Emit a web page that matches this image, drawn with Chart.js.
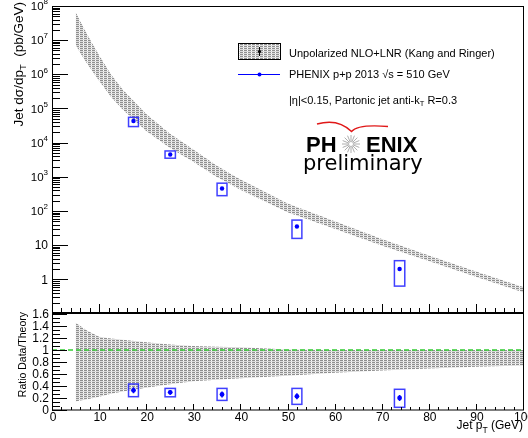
<!DOCTYPE html>
<html>
<head>
<meta charset="UTF-8">
<title>PHENIX jet cross section</title>
<style>
    body { margin: 0; background: #fff; }
    #wrap { position: relative; width: 528px; height: 438px; overflow: hidden; background: #fff; }
    canvas { position: absolute; left: 0; }
    #top { top: 0; }
    #ratio { top: 300px; }
</style>
</head>
<body>
<div id="wrap">
    <canvas id="top" width="528" height="320"></canvas>
    <canvas id="ratio" width="528" height="138"></canvas>
</div>
<script src="https://cdn.jsdelivr.net/npm/chart.js"></script>
<script>
// measured points (PHENIX p+p 2013, 510 GeV)
const ptBins = [17.3, 25.1, 36.1, 52.0, 73.8];
const ptHalfWidth = [1.05, 1.1, 1.05, 1.05, 1.1];
const xsec = [4.3e4, 4.5e3, 455, 35, 2.0];
const xsecSysLo = [2.95e4, 3.5e3, 280, 15.7, 0.63];
const xsecSysHi = [5.5e4, 5.7e3, 650, 54, 3.5];
const ratio = [0.328, 0.295, 0.26, 0.228, 0.20];
const ratioStat = [0.05, 0.04, 0.05, 0.05, 0.05];
const ratioSysLo = [0.222, 0.22, 0.16, 0.094, 0.045];
const ratioSysHi = [0.433, 0.36, 0.36, 0.36, 0.345];

// theory band (NLO+LNR)
const theoryPt = [5, 6, 7.5, 10, 12.5, 15, 20, 25, 30, 35, 40, 50, 60, 70, 80, 90, 100];
const theoryHi = [6.8e7, 3.6e7, 1.45e7, 3.6e6, 1.0e6, 3.6e5, 6.9e4, 1.86e4, 6300, 2100, 830, 166, 50, 15, 5.0, 1.7, 0.59];
const theoryLo = [7.4e6, 4.2e6, 2.0e6, 6.5e5, 2.2e5, 9.3e4, 2.2e4, 7100, 2750, 980, 420, 91, 30, 9.8, 3.4, 1.19, 0.42];
const ratioBandHi = [1.455, 1.40, 1.32, 1.22, 1.19, 1.17, 1.13, 1.09, 1.067, 1.055, 1.045, 1.01, 1.0, 1.0, 1.0, 1.0, 1.0];
const ratioBandLo = [0.14, 0.16, 0.18, 0.22, 0.27, 0.31, 0.37, 0.43, 0.48, 0.505, 0.53, 0.57, 0.62, 0.66, 0.69, 0.72, 0.74];

// unity line in ratio panel
const unityX = [0, 100];
const unityY = [1, 1];

// axis labels
const topDecades = [0, 1, 2, 3, 4, 5, 6, 7, 8];
const xLabels = [0, 10, 20, 30, 40, 50, 60, 70, 80, 90, 100];
const ratioLabels = [0, 0.2, 0.4, 0.6, 0.8, 1, 1.2, 1.4, 1.6];

const FONT = '"Liberation Sans", Arial, sans-serif';

function makeHatch() {
    const c = document.createElement('canvas');
    c.width = 4; c.height = 2;
    const g = c.getContext('2d');
    g.fillStyle = '#fff';
    g.fillRect(0, 0, 4, 2);
    g.fillStyle = '#8f8f8f';
    g.fillRect(0, 0, 3, 1);
    g.fillStyle = '#dcdcdc';
    g.fillRect(0, 1, 4, 1);
    return c.getContext('2d').createPattern(c, 'repeat');
}
const hatch = makeHatch();

function setFont(ctx, p) {
    ctx.font = (p.bold ? 'bold ' : '') + p.size + 'px ' + (p.family || FONT);
}
function richWidth(ctx, parts) {
    let w = 0;
    parts.forEach(p => { setFont(ctx, p); w += ctx.measureText(p.t).width; });
    return w;
}
function drawRich(ctx, parts, x, y, align) {
    const w = richWidth(ctx, parts);
    let cx = align === 'right' ? x - w : (align === 'center' ? x - w / 2 : x);
    ctx.textAlign = 'left';
    parts.forEach(p => {
        setFont(ctx, p);
        ctx.fillText(p.t, cx, y + (p.dy || 0));
        cx += ctx.measureText(p.t).width;
    });
}

function pts(xs, ys) {
    return xs.map((x, i) => ({ x: x, y: ys[i] }));
}

// boxes for the systematic errors
function drawBoxes(chart, lo, hi) {
    const ctx = chart.ctx, xs = chart.scales.x, ys = chart.scales.y;
    ctx.save();
    ctx.strokeStyle = 'rgba(30,30,255,0.85)';
    ctx.lineWidth = 1.5;
    ptBins.forEach((x, i) => {
        const x1 = xs.getPixelForValue(x - ptHalfWidth[i]);
        const x2 = xs.getPixelForValue(x + ptHalfWidth[i]);
        const y1 = ys.getPixelForValue(hi[i]);
        const y2 = ys.getPixelForValue(lo[i]);
        ctx.strokeRect(x1, y1, x2 - x1, y2 - y1);
    });
    ctx.restore();
}

const topDecor = {
    id: 'topDecor',
    afterDatasetsDraw(chart) {
        drawBoxes(chart, xsecSysLo, xsecSysHi);
    },
    afterDraw(chart) {
        const ctx = chart.ctx, a = chart.chartArea;
        const xs = chart.scales.x, ys = chart.scales.y;
        ctx.save();
        ctx.strokeStyle = '#000';
        ctx.lineWidth = 1;
        ctx.strokeRect(a.left + 0.5, a.top + 0.5, a.right - a.left, a.bottom - a.top);

        // log ticks on the left
        ctx.beginPath();
        for (let n = -1; n <= 8; n++) {
            for (let k = 1; k <= 9; k++) {
                const v = k * Math.pow(10, n);
                if (v < 0.11 || v > 1e8) continue;
                const y = Math.round(ys.getPixelForValue(v)) + 0.5;
                ctx.moveTo(a.left, y);
                ctx.lineTo(a.left + (k === 1 ? 16 : 8), y);
            }
        }
        // x ticks along the bottom
        for (let v = 0; v <= 100; v += 2) {
            const x = Math.round(xs.getPixelForValue(v)) + 0.5;
            ctx.moveTo(x, a.bottom);
            ctx.lineTo(x, a.bottom - (v % 10 === 0 ? 8 : 4));
        }
        ctx.stroke();

        // y labels
        ctx.fillStyle = '#000';
        ctx.textBaseline = 'middle';
        topDecades.forEach(n => {
            const y = ys.getPixelForValue(Math.pow(10, n)) + 1;
            let parts;
            if (n === 0) parts = [{ t: '1', size: 12 }];
            else if (n === 1) parts = [{ t: '10', size: 12 }];
            else parts = [{ t: '10', size: 11.5 }, { t: String(n), size: 8, dy: -5 }];
            drawRich(ctx, parts, 48, y, 'right');
        });

        // y title
        ctx.save();
        ctx.translate(19, 2);
        ctx.rotate(-Math.PI / 2);
        ctx.textBaseline = 'middle';
        drawRich(ctx, [
            { t: 'Jet d\u03c3/dp', size: 13.5 },
            { t: 'T', size: 9.5, dy: 4 },
            { t: '  (pb/GeV)', size: 13.5 }
        ], 0, 0, 'right');
        ctx.restore();

        // legend
        ctx.fillStyle = hatch;
        ctx.fillRect(238, 43, 42, 16);
        ctx.strokeStyle = '#000';
        ctx.strokeRect(238.5, 43.5, 42, 16);
        ctx.fillStyle = '#000';
        ctx.beginPath();
        ctx.arc(259.5, 51.5, 1.6, 0, Math.PI * 2);
        ctx.fill();
        ctx.beginPath();
        ctx.moveTo(259.5, 47); ctx.lineTo(259.5, 56);
        ctx.stroke();

        ctx.strokeStyle = '#0000ff';
        ctx.lineWidth = 1;
        ctx.beginPath();
        ctx.moveTo(238, 74.5); ctx.lineTo(280, 74.5);
        ctx.stroke();
        ctx.fillStyle = '#0000ff';
        ctx.beginPath();
        ctx.arc(259.5, 74.5, 2, 0, Math.PI * 2);
        ctx.fill();

        ctx.fillStyle = '#000';
        ctx.textBaseline = 'middle';
        drawRich(ctx, [{ t: 'Unpolarized NLO+LNR (Kang and Ringer)', size: 11 }], 289, 53.5, 'left');
        drawRich(ctx, [{ t: 'PHENIX p+p 2013 \u221as = 510 GeV', size: 11 }], 289, 74.5, 'left');
        drawRich(ctx, [
            { t: '|\u03b7|<0.15, Partonic jet anti-k', size: 11 },
            { t: 'T', size: 7.5, dy: 3 },
            { t: ' R=0.3', size: 11 }
        ], 289, 100.5, 'left');

        // PHENIX preliminary logo
        ctx.strokeStyle = '#e01818';
        ctx.lineWidth = 1.5;
        ctx.beginPath();
        ctx.moveTo(317, 124);
        ctx.quadraticCurveTo(338, 118, 351.5, 131.5);
        ctx.quadraticCurveTo(358, 124, 388, 126.5);
        ctx.stroke();

        ctx.strokeStyle = '#999';
        ctx.lineWidth = 0.8;
        ctx.beginPath();
        for (let k = 0; k < 16; k++) {
            const t = k * Math.PI / 8;
            ctx.moveTo(351 + 2 * Math.cos(t), 144 + 2 * Math.sin(t));
            ctx.lineTo(351 + 9 * Math.cos(t), 144 + 9 * Math.sin(t));
        }
        ctx.stroke();

        ctx.fillStyle = '#000';
        ctx.textBaseline = 'alphabetic';
        drawRich(ctx, [{ t: 'PH', size: 22, bold: true }], 306, 152, 'left');
        drawRich(ctx, [{ t: 'ENIX', size: 22, bold: true }], 366, 152, 'left');
        drawRich(ctx, [{ t: 'preliminary', size: 21, family: '"DejaVu Sans", sans-serif' }], 303, 170, 'left');
        ctx.restore();
    }
};

const ratioDecor = {
    id: 'ratioDecor',
    afterDatasetsDraw(chart) {
        drawBoxes(chart, ratioSysLo, ratioSysHi);
        const ctx = chart.ctx, xs = chart.scales.x, ys = chart.scales.y;
        ctx.save();
        ctx.strokeStyle = '#0000ff';
        ctx.lineWidth = 1.5;
        ctx.beginPath();
        ptBins.forEach((x, i) => {
            const px = xs.getPixelForValue(x);
            ctx.moveTo(px, ys.getPixelForValue(ratio[i] - ratioStat[i]));
            ctx.lineTo(px, ys.getPixelForValue(ratio[i] + ratioStat[i]));
        });
        ctx.stroke();
        ctx.restore();
    },
    afterDraw(chart) {
        const ctx = chart.ctx, a = chart.chartArea;
        const xs = chart.scales.x, ys = chart.scales.y;
        ctx.save();
        ctx.strokeStyle = '#000';
        ctx.lineWidth = 1;
        ctx.strokeRect(a.left + 0.5, a.top - 0.5, a.right - a.left, a.bottom - a.top + 0.5);

        ctx.beginPath();
        for (let j = 0; j <= 24; j++) {
            const v = j * 0.2 / 3;
            const y = Math.round(ys.getPixelForValue(v)) + 0.5;
            ctx.moveTo(a.left, y);
            ctx.lineTo(a.left + (j % 3 === 0 ? 15 : 8), y);
        }
        for (let v = 0; v <= 100; v += 2) {
            const x = Math.round(xs.getPixelForValue(v)) + 0.5;
            ctx.moveTo(x, a.bottom);
            ctx.lineTo(x, a.bottom - (v % 10 === 0 ? 6 : 3));
        }
        ctx.stroke();

        ctx.fillStyle = '#000';
        ctx.textBaseline = 'middle';
        ratioLabels.forEach(v => {
            drawRich(ctx, [{ t: String(v), size: 12 }], 49, ys.getPixelForValue(v) + 1, 'right');
        });
        ctx.textBaseline = 'top';
        xLabels.forEach(v => {
            drawRich(ctx, [{ t: String(v), size: 12 }], xs.getPixelForValue(v) + 1, a.bottom + 2, 'center');
        });
        ctx.textBaseline = 'alphabetic';
        drawRich(ctx, [
            { t: 'Jet p', size: 12 },
            { t: 'T', size: 8.5, dy: 4 },
            { t: ' (GeV)', size: 12 }
        ], 523, 129, 'right');

        ctx.save();
        ctx.translate(23, 12);
        ctx.rotate(-Math.PI / 2);
        ctx.textBaseline = 'middle';
        drawRich(ctx, [{ t: 'Ratio Data/Theory', size: 10.5 }], 0, 0, 'right');
        ctx.restore();
        ctx.restore();
    }
};

const baseOptions = (yScale, pad) => ({
    responsive: false,
    animation: false,
    events: [],
    layout: { padding: pad },
    plugins: { legend: { display: false }, tooltip: { enabled: false } },
    scales: {
        x: { type: 'linear', min: 0, max: 100, display: false },
        y: yScale
    }
});

new Chart(document.getElementById('top'), {
    type: 'line',
    data: {
        datasets: [
            { data: pts(theoryPt, theoryHi), fill: '+1', backgroundColor: hatch, borderColor: 'transparent', borderWidth: 0, pointRadius: 0, order: 3 },
            { data: pts(theoryPt, theoryLo), fill: false, borderColor: 'transparent', borderWidth: 0, pointRadius: 0, order: 2 },
            { data: pts(ptBins, xsec), showLine: false, pointRadius: 2.2, pointBackgroundColor: '#0000ff', pointBorderWidth: 0, order: 0 }
        ]
    },
    options: baseOptions({ type: 'logarithmic', min: 0.11, max: 1e8, display: false },
        { left: 52, right: 5, top: 6, bottom: 8 }),
    plugins: [topDecor]
});

new Chart(document.getElementById('ratio'), {
    type: 'line',
    data: {
        datasets: [
            { data: pts(theoryPt, ratioBandHi), fill: '+1', backgroundColor: hatch, borderColor: 'transparent', borderWidth: 0, pointRadius: 0, order: 3 },
            { data: pts(theoryPt, ratioBandLo), fill: false, borderColor: 'transparent', borderWidth: 0, pointRadius: 0, order: 2 },
            { data: pts(unityX, unityY), fill: false, borderColor: '#33cc33', borderWidth: 1.5, borderDash: [5, 3], pointRadius: 0, order: 1 },
            { data: pts(ptBins, ratio), showLine: false, pointRadius: 2.4, pointBackgroundColor: '#0000ff', pointBorderWidth: 0, order: 0 }
        ]
    },
    options: baseOptions({ type: 'linear', min: 0, max: 1.6, display: false },
        { left: 52, right: 5, top: 14, bottom: 28 }),
    plugins: [ratioDecor]
});
</script>
</body>
</html>
